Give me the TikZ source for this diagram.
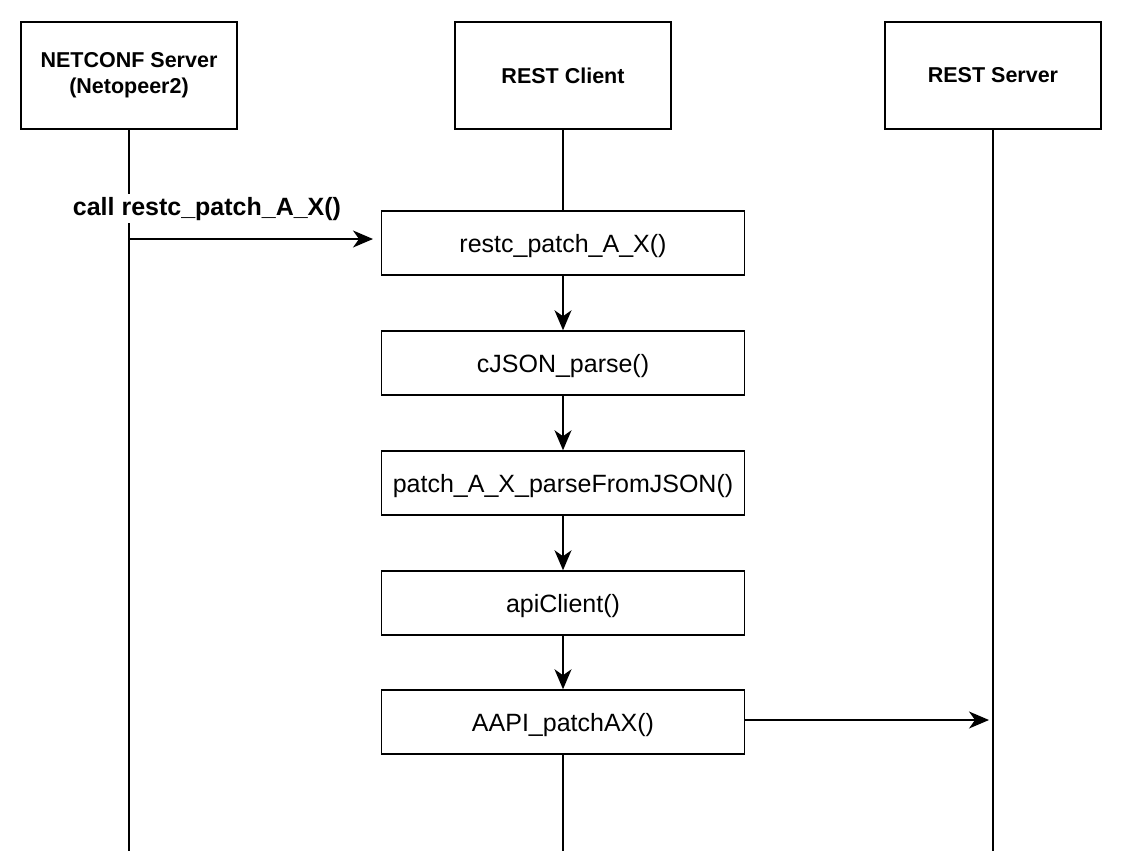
\documentclass[tikz,border=0pt]{standalone}
\usepackage{fontspec}
\setmainfont{Liberation Sans}
\usetikzlibrary{arrows.meta}
\begin{document}
\begin{tikzpicture}[x=1pt,y=-1pt,
  actor/.style={draw,line width=1.5pt,minimum width=216pt,minimum height=107pt,align=center,font=\fontsize{21.5}{26}\selectfont\bfseries},
  func/.style={draw,line width=1.5pt,minimum width=363pt,minimum height=64pt,text height=21pt,text depth=3pt,font=\fontsize{25}{30}\selectfont},
  life/.style={line width=1.5pt},
  msg/.style={line width=1.5pt,-{Stealth[length=20pt,width=17pt,inset=6pt]}}]
\useasboundingbox (0,0) rectangle (1123,860);
\node[actor] (nc) at (129,75.5) {NETCONF Server\\(Netopeer2)};
\node[actor] (rc) at (563,75.5) {REST Client};
\node[actor] (rs) at (993,75.5) {REST Server};
\coordinate (ncEnd) at (129,851);
\coordinate (rcEnd) at (563,851);
\coordinate (rsEnd) at (993,851);
\node[func] (f1) at (563,243) {restc\_patch\_A\_X()};
\node[func] (f2) at (563,363) {cJSON\_parse()};
\node[func] (f3) at (563,483) {patch\_A\_X\_parseFromJSON()};
\node[func] (f4) at (563,603) {apiClient()};
\node[func] (f5) at (563,722) {AAPI\_patchAX()};
\draw[life] (nc.south) -- (ncEnd);
\draw[life] (rc.south) -- (f1.north);
\draw[life] (f5.south) -- (rcEnd);
\draw[life] (rs.south) -- (rsEnd);
\coordinate (callStart) at (129,239);
\coordinate (callEnd) at (373,239);
\draw[msg] (callStart) -- (callEnd);
\node[anchor=base,fill=white,inner sep=3pt,font=\fontsize{25}{30}\selectfont\bfseries] (lbl) at (207,215) {call restc\_patch\_A\_X()};
\draw[msg] (f1) -- (f2);
\draw[msg] (f2) -- (f3);
\draw[msg] (f3) -- (f4);
\draw[msg] (f4) -- (f5);
\coordinate (outEnd) at (989,720);
\draw[msg] (f5.east |- outEnd) -- (outEnd);
\end{tikzpicture}
\end{document}
